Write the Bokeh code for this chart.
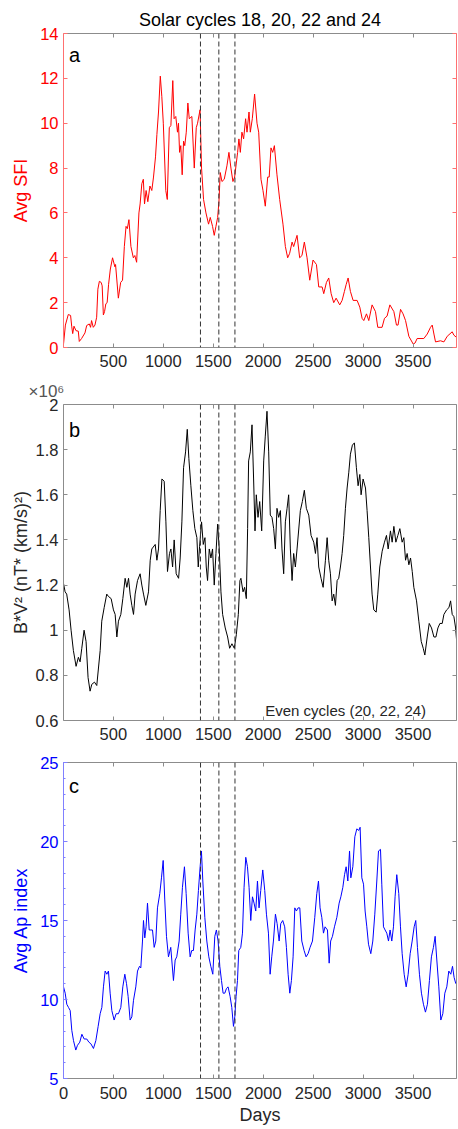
from bokeh.plotting import figure
from bokeh.models import LinearAxis, Range1d, Span, Label, Title, FixedTicker
from bokeh.layouts import column
from bokeh.embed import file_html
from bokeh.resources import INLINE

FONT = "Liberation Sans"
GRAY_TXT = "#262626"
GRAY_LINE = "#8c8c8c"

# ---------------- data ----------------
title_text = "Solar cycles 18, 20, 22 and 24"
cycle_boundaries = [1372, 1556, 1717]

x_ticks_ab = [500, 1000, 1500, 2000, 2500, 3000, 3500]
x_ticks_c = [0, 500, 1000, 1500, 2000, 2500, 3000, 3500]
sfi_ticks = [0, 2, 4, 6, 8, 10, 12, 14]
bv_ticks = [0.6, 0.8, 1.0, 1.2, 1.4, 1.6, 1.8, 2.0]
bv_tick_labels = ["0.6", "0.8", "1", "1.2", "1.4", "1.6", "1.8", "2"]
ap_ticks = [5, 10, 15, 20, 25]
ap_minor_ticks = list(range(5, 26))

# Panel a: average solar flux index
sfi_series = [
    (0, 0.1), (20, 1.0), (49, 1.47), (72, 1.43), (83, 0.95), (93, 0.62), (106, 0.95),
    (126, 0.75), (149, 0.73), (159, 0.27), (182, 0.4), (216, 0.65), (233, 0.98),
    (259, 1.05), (272, 0.9), (282, 1.2), (299, 0.9), (316, 1.0), (333, 1.35),
    (345, 2.6), (360, 2.95), (378, 2.9), (388, 2.75), (400, 1.45), (412, 1.6),
    (425, 1.95), (438, 2.0), (452, 2.8), (470, 3.5), (492, 4.0), (515, 3.6),
    (522, 3.7), (550, 2.2), (573, 2.9), (592, 3.0), (610, 4.5), (627, 5.4),
    (640, 5.3), (656, 5.7), (676, 4.5), (700, 4.0), (715, 4.1), (733, 3.8),
    (756, 6.0), (768, 6.4), (785, 7.3), (800, 7.5), (812, 6.4), (828, 7.0),
    (845, 6.5), (866, 7.2), (885, 7.0), (902, 7.6), (922, 8.5), (936, 9.5),
    (952, 10.5), (970, 12.1), (985, 11.2), (1000, 10.0), (1025, 7.0), (1040, 6.6),
    (1060, 9.8), (1076, 9.9), (1095, 11.9), (1108, 10.2), (1125, 10.3), (1142, 9.6),
    (1152, 10.0), (1163, 8.7), (1175, 9.0), (1189, 7.7), (1203, 9.2), (1215, 9.0),
    (1230, 9.6), (1246, 10.9), (1260, 10.2), (1286, 10.3), (1310, 8.0), (1330, 9.8),
    (1343, 10.0), (1368, 10.6), (1383, 8.0), (1403, 6.6), (1427, 6.0), (1453, 5.5),
    (1470, 5.8), (1493, 5.4), (1510, 5.0), (1527, 5.4), (1544, 5.8), (1557, 6.5),
    (1570, 7.8), (1587, 7.4), (1610, 7.5), (1637, 8.1), (1657, 8.7), (1677, 8.0),
    (1697, 7.4), (1714, 7.6), (1744, 8.7), (1757, 9.3), (1771, 8.7), (1787, 9.6),
    (1804, 9.3), (1824, 10.2), (1838, 9.6), (1858, 10.5), (1871, 9.6), (1891, 10.2),
    (1914, 11.3), (1938, 10.0), (1955, 9.6), (1978, 7.5), (1998, 7.0), (2021, 6.3),
    (2045, 7.6), (2060, 7.6), (2078, 8.9), (2095, 8.7), (2112, 9.0), (2138, 7.7),
    (2165, 6.6), (2198, 5.5), (2222, 4.5), (2245, 4.0), (2265, 4.2), (2289, 4.7),
    (2305, 4.5), (2339, 5.0), (2365, 4.0), (2388, 4.1), (2412, 4.7), (2439, 4.0),
    (2466, 3.0), (2499, 3.9), (2533, 3.7), (2556, 2.7), (2590, 2.7), (2606, 2.4),
    (2633, 2.9), (2656, 3.1), (2680, 2.4), (2706, 2.0), (2730, 2.2), (2766, 1.9),
    (2790, 2.1), (2813, 2.5), (2830, 2.8), (2850, 3.1), (2873, 2.5), (2900, 2.1),
    (2940, 2.1), (2967, 1.8), (2990, 1.3), (3007, 1.2), (3034, 1.5), (3057, 1.2),
    (3090, 1.9), (3124, 1.6), (3147, 0.9), (3190, 0.9), (3214, 1.3), (3240, 1.4),
    (3268, 1.9), (3308, 1.6), (3334, 1.0), (3350, 1.0), (3375, 1.7), (3400, 1.5),
    (3425, 1.2), (3458, 0.5), (3502, 0.15), (3520, 0.2), (3541, 0.4), (3608, 0.4),
    (3642, 0.6), (3675, 0.9), (3692, 1.0), (3709, 0.6), (3725, 0.25), (3775, 0.3),
    (3809, 0.25), (3842, 0.5), (3892, 0.7), (3909, 0.55), (3935, 0.45),
]

# Panel b: B*V^2 in units of 10^6 (nT*(km/s)^2)
bv_series = [
    (0, 1.21), (17, 1.17), (33, 1.16), (57, 1.09), (77, 1.0), (100, 0.91), (127, 0.84),
    (150, 0.88), (167, 0.86), (184, 0.92), (207, 1.0), (227, 0.95), (247, 0.79),
    (267, 0.73), (284, 0.76), (311, 0.77), (334, 0.755), (368, 0.91), (384, 1.04),
    (408, 1.10), (434, 1.16), (450, 1.15), (478, 1.14), (501, 1.09), (518, 1.07),
    (535, 0.97), (551, 1.04), (575, 1.07), (595, 1.14), (618, 1.23), (635, 1.19),
    (652, 1.23), (668, 1.16), (685, 1.11), (702, 1.07), (718, 1.16), (742, 1.22),
    (768, 1.25), (785, 1.20), (802, 1.16), (825, 1.11), (852, 1.17), (869, 1.31),
    (885, 1.36), (919, 1.38), (936, 1.31), (952, 1.36), (969, 1.53), (986, 1.67),
    (1009, 1.66), (1026, 1.48), (1042, 1.26), (1062, 1.34), (1076, 1.36), (1093, 1.28),
    (1109, 1.40), (1129, 1.25), (1153, 1.23), (1169, 1.32), (1186, 1.48), (1203, 1.72),
    (1223, 1.79), (1240, 1.89), (1256, 1.76), (1276, 1.64), (1296, 1.53), (1316, 1.45),
    (1336, 1.41), (1350, 1.28), (1363, 1.37), (1383, 1.48), (1400, 1.38), (1417, 1.41),
    (1430, 1.28), (1443, 1.22), (1460, 1.36), (1477, 1.32), (1493, 1.36), (1510, 1.20),
    (1527, 1.34), (1544, 1.47), (1560, 1.36), (1577, 1.17), (1594, 1.07), (1620, 1.01),
    (1644, 0.97), (1664, 0.92), (1687, 0.94), (1711, 0.92), (1731, 0.98), (1751, 1.07),
    (1767, 1.22), (1777, 1.23), (1798, 1.17), (1814, 1.19), (1831, 1.14), (1844, 1.45),
    (1854, 1.75), (1871, 1.79), (1888, 1.91), (1904, 1.67), (1918, 1.44), (1931, 1.60),
    (1948, 1.50), (1965, 1.57), (1985, 1.44), (2005, 1.75), (2021, 1.86), (2038, 1.97),
    (2055, 1.79), (2071, 1.51), (2088, 1.50), (2105, 1.45), (2122, 1.36), (2138, 1.54),
    (2155, 1.50), (2172, 1.53), (2188, 1.36), (2205, 1.25), (2222, 1.48), (2239, 1.54),
    (2255, 1.60), (2272, 1.36), (2289, 1.22), (2305, 1.34), (2322, 1.28), (2339, 1.36),
    (2372, 1.53), (2392, 1.57), (2412, 1.62), (2432, 1.54), (2456, 1.51), (2479, 1.42),
    (2506, 1.39), (2523, 1.34), (2539, 1.41), (2556, 1.28), (2579, 1.23), (2600, 1.19),
    (2623, 1.31), (2640, 1.41), (2656, 1.31), (2673, 1.25), (2690, 1.13), (2706, 1.16),
    (2723, 1.11), (2740, 1.22), (2756, 1.23), (2773, 1.28), (2790, 1.34), (2806, 1.42),
    (2823, 1.54), (2840, 1.63), (2857, 1.70), (2873, 1.78), (2893, 1.82), (2913, 1.83),
    (2933, 1.72), (2950, 1.64), (2967, 1.69), (2980, 1.60), (3000, 1.67), (3024, 1.63),
    (3040, 1.53), (3057, 1.41), (3074, 1.28), (3090, 1.16), (3107, 1.09), (3131, 1.08),
    (3147, 1.16), (3167, 1.28), (3191, 1.35), (3214, 1.39), (3234, 1.42), (3251, 1.36),
    (3274, 1.44), (3291, 1.39), (3308, 1.46), (3328, 1.39), (3348, 1.42), (3368, 1.45),
    (3391, 1.39), (3408, 1.41), (3425, 1.31), (3441, 1.34), (3458, 1.29), (3475, 1.32),
    (3492, 1.26), (3508, 1.19), (3535, 1.13), (3558, 1.04), (3582, 0.95), (3602, 0.92),
    (3618, 0.89), (3642, 0.97), (3662, 1.03), (3685, 1.01), (3709, 0.97), (3729, 0.97),
    (3749, 1.01), (3769, 1.03), (3792, 1.03), (3809, 1.07), (3836, 1.09), (3859, 1.10),
    (3876, 1.13), (3892, 1.07), (3909, 1.06), (3926, 1.01), (3935, 0.96),
]

# Panel c: average Ap index
ap_series = [
    (0, 10.8), (17, 10.4), (33, 9.7), (50, 9.5), (67, 9.3), (83, 8.05), (100, 7.4),
    (123, 6.8), (140, 7.1), (163, 7.3), (184, 7.8), (207, 7.5), (233, 7.5), (254, 7.3),
    (274, 7.2), (300, 6.9), (324, 7.4), (347, 8.3), (367, 9.1), (384, 9.5), (400, 10.8),
    (417, 11.8), (434, 11.6), (450, 11.8), (467, 10.4), (484, 9.3), (507, 8.7),
    (527, 9.1), (550, 9.1), (574, 9.5), (594, 10.8), (614, 11.6), (631, 11.0),
    (647, 10.2), (667, 8.7), (684, 8.9), (701, 9.95), (724, 10.8), (741, 11.8),
    (761, 12.1), (774, 12.0), (791, 13.7), (801, 15.0), (814, 13.9), (827, 14.6),
    (841, 16.1), (858, 14.4), (874, 14.4), (891, 14.4), (908, 13.3), (924, 13.7),
    (941, 15.8), (964, 16.7), (981, 17.7), (998, 18.8), (1014, 16.3), (1031, 14.0),
    (1051, 12.7), (1074, 13.3), (1101, 11.2), (1118, 12.5), (1134, 12.7), (1158, 13.7),
    (1174, 15.4), (1191, 17.1), (1211, 18.4), (1228, 16.7), (1248, 14.2), (1268, 12.7),
    (1284, 13.1), (1301, 13.1), (1318, 14.4), (1335, 15.4), (1351, 16.9), (1368, 18.4),
    (1381, 19.4), (1395, 17.5), (1415, 15.2), (1435, 13.7), (1455, 12.7), (1475, 12.1),
    (1495, 11.6), (1515, 14.0), (1531, 14.4), (1548, 13.7), (1565, 12.1), (1582, 11.2),
    (1598, 10.4), (1615, 10.4), (1632, 10.7), (1648, 10.8), (1668, 10.2), (1685, 9.5),
    (1702, 8.3), (1715, 8.9), (1728, 10.2), (1742, 11.2), (1755, 13.1), (1775, 13.3),
    (1792, 14.2), (1808, 17.1), (1825, 19.0), (1842, 18.4), (1858, 17.1), (1875, 15.0),
    (1892, 16.5), (1908, 16.1), (1925, 15.6), (1942, 17.5), (1958, 15.8), (1975, 16.9),
    (1995, 18.2), (2015, 16.9), (2032, 15.4), (2052, 14.2), (2069, 11.6), (2085, 12.7),
    (2102, 13.7), (2122, 15.4), (2139, 14.8), (2159, 13.7), (2175, 14.8), (2195, 15.0),
    (2215, 14.6), (2232, 13.3), (2249, 11.6), (2266, 10.4), (2282, 11.2), (2299, 12.7),
    (2316, 15.8), (2332, 15.6), (2349, 15.8), (2366, 15.8), (2386, 13.7), (2409, 13.1),
    (2429, 12.7), (2449, 12.9), (2469, 13.3), (2493, 13.7), (2516, 15.2), (2536, 16.7),
    (2553, 17.5), (2569, 15.8), (2586, 15.2), (2603, 14.2), (2619, 14.6), (2643, 14.4),
    (2660, 12.3), (2675, 13.7), (2693, 14.0), (2713, 14.6), (2737, 15.2), (2760, 16.1),
    (2777, 16.5), (2797, 17.1), (2814, 17.9), (2830, 18.4), (2847, 17.5), (2864, 19.4),
    (2877, 17.7), (2897, 18.4), (2917, 20.3), (2937, 20.8), (2957, 20.7), (2970, 20.9),
    (2987, 17.7), (3004, 17.3), (3020, 15.6), (3037, 14.6), (3054, 13.5), (3077, 12.9),
    (3097, 13.7), (3117, 15.4), (3137, 17.5), (3154, 19.4), (3174, 19.5), (3187, 17.3),
    (3204, 14.6), (3220, 14.4), (3237, 14.2), (3254, 13.7), (3270, 14.4), (3287, 13.7),
    (3304, 14.6), (3320, 16.5), (3337, 17.9), (3357, 16.7), (3374, 14.6), (3391, 12.9),
    (3411, 11.6), (3431, 10.8), (3451, 11.6), (3471, 12.9), (3491, 13.7), (3511, 14.6),
    (3527, 15.0), (3544, 13.3), (3564, 11.6), (3584, 10.4), (3604, 9.7), (3624, 9.2),
    (3644, 9.7), (3664, 11.2), (3684, 12.7), (3704, 13.3), (3721, 14.0), (3738, 12.5),
    (3758, 10.8), (3778, 8.7), (3798, 9.1), (3818, 10.4), (3838, 10.8), (3858, 11.8),
    (3878, 11.6), (3895, 12.1), (3911, 11.4), (3928, 11.0),
]

X_END = 3935


def split(series):
    return [d for d, _ in series], [v for _, v in series]


def style_axis(ax, ticks, text_color, line_color, show_labels=True, minor=None,
               standoff=6, overrides=None):
    ax.ticker = FixedTicker(ticks=ticks, minor_ticks=minor or [])
    ax.axis_line_color = line_color
    ax.axis_line_width = 1
    ax.major_tick_line_color = line_color
    ax.major_tick_in = 4
    ax.major_tick_out = 0
    ax.minor_tick_line_color = line_color if minor else None
    ax.minor_tick_in = 2
    ax.minor_tick_out = 0
    ax.major_label_text_font = FONT
    ax.major_label_text_color = text_color
    if show_labels:
        ax.major_label_text_font_size = "16.5px"
        ax.major_label_standoff = standoff
    else:
        ax.major_label_text_font_size = "0px"
        ax.major_label_text_alpha = 0
        ax.major_label_standoff = 0
    if overrides:
        ax.major_label_overrides = overrides
    ax.axis_label_text_font = FONT
    ax.axis_label_text_font_style = "normal"
    ax.axis_label_text_font_size = "18px"


def make_fig(height, top, bottom, x0, y0, y1):
    p = figure(width=458, height=height, x_range=Range1d(x0, X_END),
               y_range=Range1d(y0, y1), output_backend="svg", toolbar_location=None,
               min_border_left=63, min_border_right=2, min_border_top=top,
               min_border_bottom=bottom)
    p.xgrid.visible = False
    p.ygrid.visible = False
    p.outline_line_color = None
    p.background_fill_color = "white"
    p.border_fill_color = "white"
    return p


def add_box_axes(p, xticks, ytick_vals, right_color, top_color, minor=None):
    ax_r = LinearAxis()
    style_axis(ax_r, ytick_vals, right_color, right_color, show_labels=False, minor=minor)
    p.add_layout(ax_r, "right")
    ax_t = LinearAxis()
    style_axis(ax_t, xticks, top_color, top_color, show_labels=False)
    p.add_layout(ax_t, "above")


def add_spans(p):
    for loc in cycle_boundaries:
        p.add_layout(Span(location=loc, dimension="height", line_color="#333333",
                          line_width=1, line_dash="5 3"))


def panel_label(p, x, y, txt):
    p.add_layout(Label(x=x, y=y, text=txt, text_font=FONT, text_font_size="20px",
                       text_color="black", text_align="left", text_baseline="alphabetic"))


RED = "#ff0000"
RED_AX = "#ff7070"
BLUE = "#0000ff"
BLUE_AX = "#8080ff"

# ---------------- panel a ----------------
pa = make_fig(375, 33, 28, 1, 0, 14)
xa, ya = split(sfi_series)
pa.line(xa, ya, line_color=RED, line_width=1)
style_axis(pa.xaxis[0], x_ticks_ab, GRAY_TXT, GRAY_LINE, standoff=7)
style_axis(pa.yaxis[0], sfi_ticks, RED, RED_AX, standoff=5)
pa.yaxis[0].axis_label = "Avg SFI"
pa.yaxis[0].axis_label_text_color = RED
pa.yaxis[0].axis_label_standoff = 6
add_box_axes(pa, x_ticks_ab, sfi_ticks, RED_AX, GRAY_LINE)
add_spans(pa)
panel_label(pa, 55, 13.05, "a")
pa.add_layout(Title(text=title_text, align="center", text_font=FONT,
                    text_font_size="18px", text_font_style="normal",
                    text_color="black", standoff=8), "above")

# ---------------- panel b ----------------
pb = make_fig(373, 28, 28, 1, 0.6, 2.0)
xb, yb = split(bv_series)
pb.line(xb, yb, line_color="black", line_width=1)
style_axis(pb.xaxis[0], x_ticks_ab, GRAY_TXT, GRAY_LINE, standoff=7)
style_axis(pb.yaxis[0], bv_ticks, GRAY_TXT, GRAY_LINE, standoff=5,
           overrides={t: l for t, l in zip(bv_ticks, bv_tick_labels)})
pb.yaxis[0].axis_label = "B*V\u00b2 (nT* (km/s)\u00b2)"
pb.yaxis[0].axis_label_text_color = GRAY_TXT
pb.yaxis[0].axis_label_standoff = 2
add_box_axes(pb, x_ticks_ab, bv_ticks, GRAY_LINE, GRAY_LINE)
add_spans(pb)
panel_label(pb, 55, 1.885, "b")
pb.add_layout(Label(x=2020, y=0.645, text="Even cycles (20, 22, 24)", text_font=FONT,
                    text_font_size="15px", text_color=GRAY_TXT, text_align="left",
                    text_baseline="alphabetic"))
# exponent note above the y axis
pb.add_layout(Title(text="\u00d710\u2076", align="left", offset=-35, text_font=FONT,
                    text_font_size="17px", text_font_style="normal",
                    text_color="#555555", standoff=8), "above")

# ---------------- panel c ----------------
pc = make_fig(381, 14, 51, 0, 5, 25)
xc, yc = split(ap_series)
pc.line(xc, yc, line_color=BLUE, line_width=1)
style_axis(pc.xaxis[0], x_ticks_c, GRAY_TXT, GRAY_LINE, standoff=8)
pc.xaxis[0].axis_label = "Days"
pc.xaxis[0].axis_label_text_color = GRAY_TXT
pc.xaxis[0].axis_label_standoff = 3
style_axis(pc.yaxis[0], ap_ticks, BLUE, BLUE_AX, standoff=5, minor=ap_minor_ticks)
pc.yaxis[0].axis_label = "Avg Ap index"
pc.yaxis[0].axis_label_text_color = BLUE
pc.yaxis[0].axis_label_standoff = 6
add_box_axes(pc, x_ticks_c, ap_ticks, GRAY_LINE, GRAY_LINE)
add_spans(pc)
panel_label(pc, 55, 23.5, "c")

layout = column(pa, pb, pc, spacing=0)
open("out.html", "w").write(file_html(layout, INLINE))
